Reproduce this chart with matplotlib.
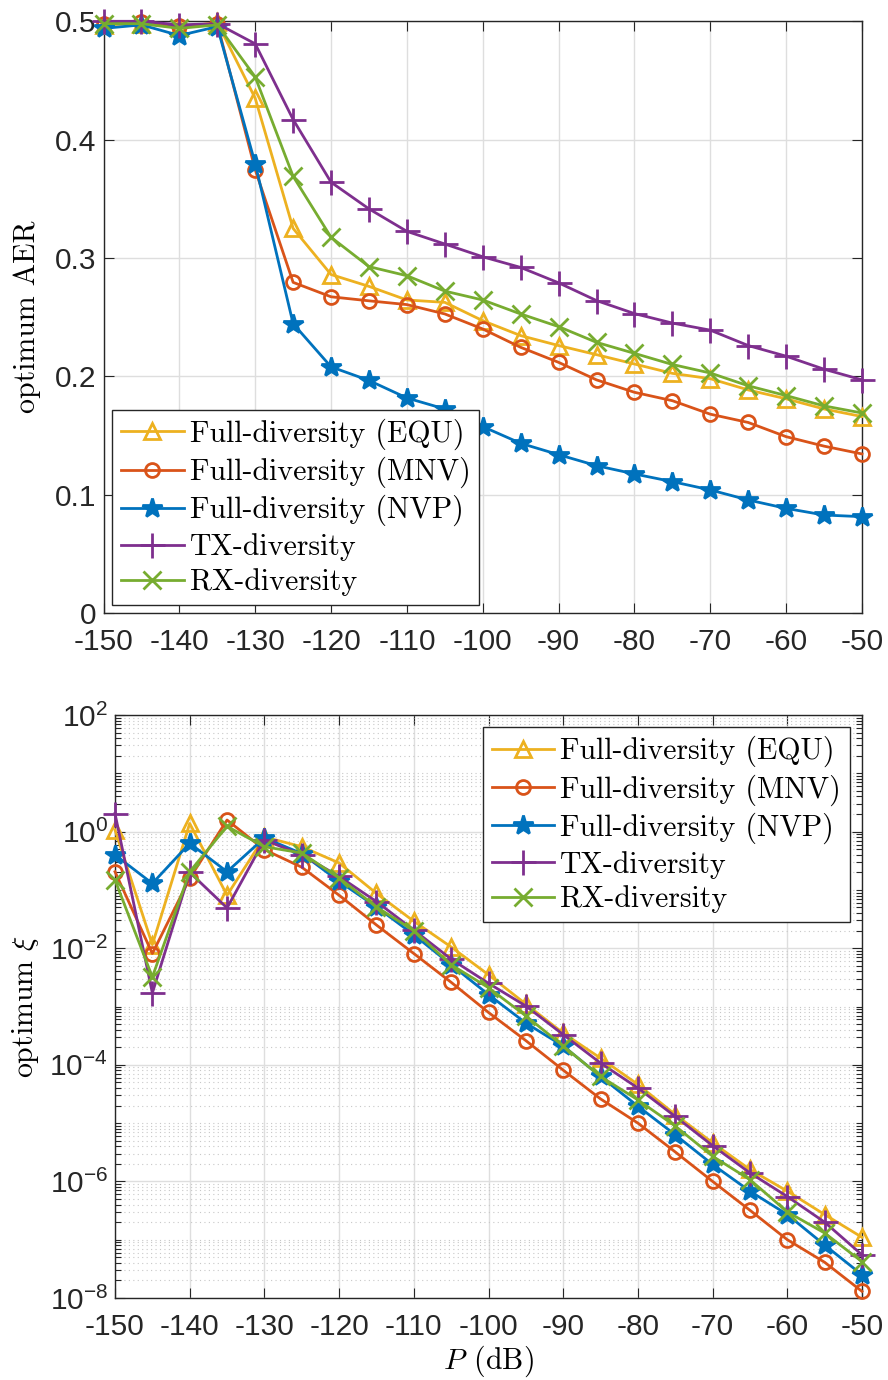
import numpy as np
import matplotlib
matplotlib.use("Agg")
import matplotlib.pyplot as plt
from matplotlib.ticker import FixedLocator, LogLocator, NullFormatter

# ---------------- data ----------------
power_db = [-150, -145, -140, -135, -130, -125, -120, -115, -110, -105, -100,
            -95, -90, -85, -80, -75, -70, -65, -60, -55, -50]

series_names = ["Full-diversity (EQU)", "Full-diversity (MNV)",
                "Full-diversity (NVP)", "TX-diversity", "RX-diversity"]

# optimum AER
aer_equ = [0.497, 0.498, 0.495, 0.499, 0.435, 0.325, 0.286, 0.276, 0.2645, 0.2625, 0.247,
           0.2344, 0.226, 0.2183, 0.2104, 0.2025, 0.198, 0.1885, 0.181, 0.1724, 0.166]
aer_mnv = [0.498, 0.499, 0.496, 0.498, 0.3746, 0.2794, 0.2672, 0.2638, 0.2606, 0.2527, 0.240,
           0.2245, 0.2118, 0.197, 0.1865, 0.1794, 0.168, 0.161, 0.149, 0.141, 0.1344]
aer_nvp = [0.494, 0.497, 0.488, 0.4955, 0.3797, 0.2445, 0.208, 0.1965, 0.1817, 0.1724, 0.1575,
           0.1434, 0.1338, 0.1245, 0.1175, 0.111, 0.104, 0.0955, 0.0884, 0.0828, 0.0814]
aer_tx = [0.500, 0.500, 0.497, 0.498, 0.481, 0.417, 0.364, 0.3415, 0.3225, 0.3118, 0.301,
          0.292, 0.279, 0.264, 0.253, 0.245, 0.239, 0.226, 0.217, 0.206, 0.197]
aer_rx = [0.498, 0.498, 0.494, 0.497, 0.453, 0.369, 0.3175, 0.2927, 0.285, 0.272, 0.2645,
          0.2527, 0.242, 0.2287, 0.2194, 0.210, 0.2028, 0.192, 0.1837, 0.175, 0.169]

# optimum xi
xi_equ = [1.07, 1.15e-2, 1.38, 8.1e-2, 8.1e-1, 5.5e-1, 2.9e-1, 8.7e-2, 2.9e-2, 1.05e-2, 3.5e-3,
          1.1e-3, 3.5e-4, 1.3e-4, 4.6e-5, 1.4e-5, 4.6e-6, 1.6e-6, 6.8e-7, 2.7e-7, 1.1e-7]
xi_mnv = [2.05e-1, 8.1e-3, 1.58e-1, 1.58, 4.9e-1, 2.45e-1, 8.1e-2, 2.5e-2, 8.1e-3, 2.6e-3, 7.9e-4,
          2.6e-4, 8.1e-5, 2.6e-5, 1.0e-5, 3.2e-6, 1.0e-6, 3.2e-7, 1.0e-7, 4.1e-8, 1.3e-8]
xi_nvp = [3.98e-1, 1.29e-1, 6.3e-1, 2.05e-1, 7.8e-1, 4.2e-1, 1.4e-1, 5.1e-2, 1.7e-2, 5.2e-3, 1.6e-3,
          5.2e-4, 2.1e-4, 6.3e-5, 1.95e-5, 6.3e-6, 1.95e-6, 6.8e-7, 2.7e-7, 8.1e-8, 2.5e-8]
xi_tx = [2.04, 1.7e-3, 2.0e-1, 4.9e-2, 7.2e-1, 4.0e-1, 1.7e-1, 6.3e-2, 2.05e-2, 6.5e-3, 2.5e-3,
         1.02e-3, 3.3e-4, 1.07e-4, 4.0e-5, 1.3e-5, 4.1e-6, 1.4e-6, 5.5e-7, 2.0e-7, 5.5e-8]
xi_rx = [1.48e-1, 3.2e-3, 2.05e-1, 1.23, 5.5e-1, 4.3e-1, 1.6e-1, 5.1e-2, 2.0e-2, 5.2e-3, 2.1e-3,
         6.9e-4, 2.1e-4, 6.3e-5, 2.5e-5, 8.9e-6, 2.7e-6, 1.07e-6, 3.0e-7, 1.3e-7, 4.2e-8]

x_ticks = [-150, -140, -130, -120, -110, -100, -90, -80, -70, -60, -50]
aer_ticks = [0, 0.1, 0.2, 0.3, 0.4, 0.5]
aer_tick_labels = ["0", "0.1", "0.2", "0.3", "0.4", "0.5"]
xi_ticks = [1e2, 1e0, 1e-2, 1e-4, 1e-6, 1e-8]
xi_tick_labels = [r"$\mathregular{10^{2}}$", r"$\mathregular{10^{0}}$",
                  r"$\mathregular{10^{-2}}$", r"$\mathregular{10^{-4}}$",
                  r"$\mathregular{10^{-6}}$", r"$\mathregular{10^{-8}}$"]

# ---------------- styles ----------------
colors = ["#EDB120", "#D95319", "#0072BD", "#7E2F8E", "#77AC30"]
markers = ["^", "o", "*", "+", "x"]
msizes = [11, 10, 15, 18, 13]
filled = [False, False, True, True, True]

plt.rcParams["mathtext.fontset"] = "cm"
AXC = "#262626"
GRIDC = "#dedede"
TICK_FONT = "Liberation Sans"
SERIF = "cmr10"

W, H = 888, 1380
fig = plt.figure(figsize=(W / 100, H / 100), dpi=100)


def fig_rect(x0, y0, x1, y1):
    return [x0 / W, 1 - y1 / H, (x1 - x0) / W, (y1 - y0) / H]


ax1 = fig.add_axes(fig_rect(103.5, 21.3, 862, 613))
ax2 = fig.add_axes(fig_rect(115, 715, 862, 1298))


def draw(ax, ys):
    handles = []
    for y, c, m, ms, f, name in zip(ys, colors, markers, msizes, filled, series_names):
        h, = ax.plot(power_db, y, color=c, lw=2.0, marker=m, ms=ms,
                     mfc=(c if f else "none"), mec=c, mew=2.0,
                     label=name, clip_on=False, zorder=3)
        handles.append(h)
    return handles


def style(ax):
    ax.set_xlim(-150, -50)
    ax.xaxis.set_major_locator(FixedLocator(x_ticks))
    ax.set_xticklabels([str(v) for v in x_ticks])
    for s in ax.spines.values():
        s.set_color(AXC)
        s.set_linewidth(1.0)
    ax.tick_params(which="both", direction="in", top=True, right=True,
                   colors=AXC, labelcolor=AXC, width=0.8)
    ax.tick_params(which="major", length=7)
    ax.tick_params(axis="x", which="major", pad=11)
    ax.tick_params(axis="y", which="major", pad=5)
    for lab in ax.get_xticklabels() + ax.get_yticklabels():
        lab.set_fontfamily(TICK_FONT)
        lab.set_fontsize(21.5)
    ax.set_axisbelow(True)


legend_kw = dict(prop={"family": SERIF, "size": 21.5}, numpoints=1, handlelength=2.1,
                 handletextpad=0.2, labelspacing=0.23, borderpad=0.3,
                 borderaxespad=0.0, fancybox=False, framealpha=1.0,
                 edgecolor=AXC)

# ---- top: optimum AER ----
draw(ax1, [aer_equ, aer_mnv, aer_nvp, aer_tx, aer_rx])
ax1.set_ylim(0, 0.5)
ax1.yaxis.set_major_locator(FixedLocator(aer_ticks))
ax1.set_yticklabels(aer_tick_labels)
ax1.grid(True, which="major", color=GRIDC, lw=1.0)
style(ax1)
ax1.set_ylabel("optimum AER", family=SERIF, fontsize=21.5, labelpad=10)
leg1 = ax1.legend(loc="lower left", bbox_to_anchor=(112 / W, 1 - 605 / H),
                  bbox_transform=fig.transFigure, **legend_kw)
leg1.get_frame().set_linewidth(1.0)

# ---- bottom: optimum xi ----
draw(ax2, [xi_equ, xi_mnv, xi_nvp, xi_tx, xi_rx])
ax2.set_yscale("log")
ax2.set_ylim(1e-8, 1e2)
ax2.yaxis.set_major_locator(FixedLocator(xi_ticks))
ax2.set_yticklabels(xi_tick_labels)
ax2.yaxis.set_minor_locator(LogLocator(base=10, subs=np.arange(1, 10), numticks=40))
ax2.yaxis.set_minor_formatter(NullFormatter())
ax2.grid(True, which="major", color=GRIDC, lw=1.0)
ax2.grid(True, which="minor", axis="y", color="#c8c8c8", lw=0.8, ls=(0, (1, 3)))
style(ax2)
ax2.tick_params(axis="y", which="minor", length=4)
ax2.set_ylabel(r"optimum $\xi$", family=SERIF, fontsize=21.5, labelpad=6)
ax2.set_xlabel(r"$P\;\,\mathrm{(dB)}$", fontsize=21.5, labelpad=2)
leg2 = ax2.legend(loc="upper right", bbox_to_anchor=(850 / W, 1 - 727 / H),
                  bbox_transform=fig.transFigure, **legend_kw)
leg2.get_frame().set_linewidth(1.0)

fig.savefig("out.png", dpi=100, facecolor="white")
